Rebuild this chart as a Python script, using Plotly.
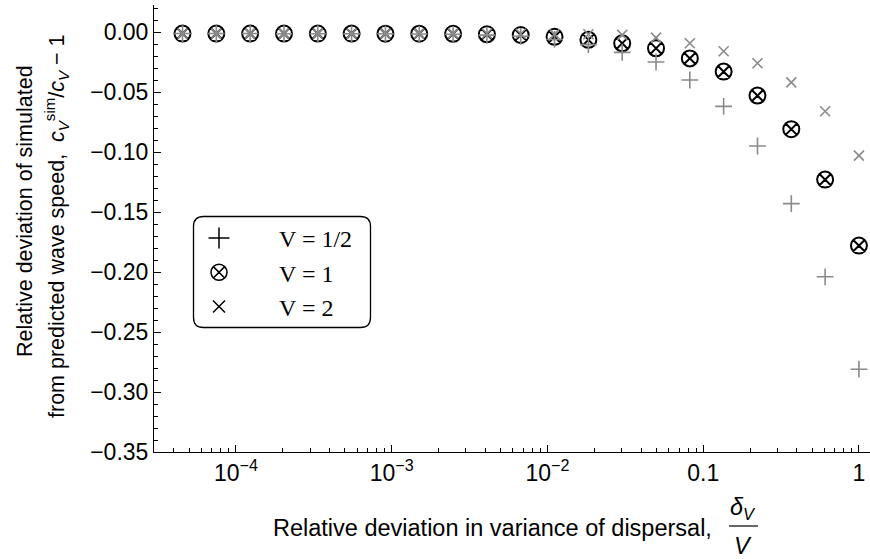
import plotly.graph_objects as go

# Relative deviation in the variance of dispersal, delta_V / V
delta_ratio = [4.540e-5, 7.485e-5, 1.234e-4, 2.035e-4, 3.355e-4, 5.531e-4,
               9.119e-4, 1.503e-3, 2.479e-3, 4.087e-3, 6.738e-3, 1.111e-2,
               1.832e-2, 3.020e-2, 4.979e-2, 8.208e-2, 0.1353, 0.2231,
               0.3679, 0.6065, 1.0]

# Relative deviation of simulated from predicted wave speed, c_sim / c - 1
dev_half = [-0.0013, -0.0013, -0.0013, -0.0014, -0.0014, -0.0015, -0.0015,
            -0.0017, -0.0019, -0.0026, -0.0036, -0.0062, -0.0105, -0.0170,
            -0.0250, -0.0400, -0.0620, -0.0950, -0.1430, -0.2040, -0.2810]
dev_one = [-0.0013, -0.0013, -0.0013, -0.0013, -0.0013, -0.0013, -0.0014,
           -0.0014, -0.0015, -0.0019, -0.0025, -0.0040, -0.0065, -0.0094,
           -0.0136, -0.0220, -0.0330, -0.0530, -0.0810, -0.1230, -0.1780]
dev_two = [-0.0013, -0.0013, -0.0013, -0.0013, -0.0013, -0.0013, -0.0013,
           -0.0013, -0.0013, -0.0014, -0.0015, -0.0017, -0.0019, -0.0024,
           -0.0047, -0.0094, -0.0160, -0.0260, -0.0420, -0.0660, -0.1030]

series_names = ["V = 1/2", "V = 1", "V = 2"]

x_tickvals = [1e-4, 1e-3, 1e-2, 0.1, 1]
x_ticktext = ["10<sup>\u22124</sup>", "10<sup>\u22123</sup>", "10<sup>\u22122</sup>", "0.1", "1"]
y_tickvals = [0.0, -0.05, -0.10, -0.15, -0.20, -0.25, -0.30, -0.35]
y_ticktext = ["0.00", "\u22120.05", "\u22120.10", "\u22120.15", "\u22120.20",
              "\u22120.25", "\u22120.30", "\u22120.35"]

W, H = 870, 559
ML, MR, MT, MB = 154, 0, 5, 107
PW, PH = W - ML - MR, H - MT - MB

def px_x(px):
    return (px - ML) / PW

def px_y(py):
    return (H - MB - py) / PH

GRAY = "#8a8a8a"
SANS = "Liberation Sans, Arial, sans-serif"
SERIF = "Liberation Serif, Times New Roman, serif"
TICK_SIZE = 23
XTITLE_SIZE = 23.5
YTITLE_SIZE = 21.5

fig = go.Figure()

fig.add_trace(go.Scatter(
    x=delta_ratio, y=dev_one, mode="markers", showlegend=False,
    marker=dict(symbol="circle-x-open", size=16, color="black",
                line=dict(width=2, color="black"))))
fig.add_trace(go.Scatter(
    x=delta_ratio, y=dev_half, mode="markers", showlegend=False,
    marker=dict(symbol="cross-thin", size=12, color=GRAY,
                line=dict(width=1.6, color=GRAY))))
fig.add_trace(go.Scatter(
    x=delta_ratio, y=dev_two, mode="markers", showlegend=False,
    marker=dict(symbol="x-thin", size=10, color=GRAY,
                line=dict(width=1.6, color=GRAY))))

# legend keys (black glyphs)
legend_symbols = [("cross-thin", 15), ("circle-x-open", 17), ("x-thin", 12)]
for name, (sym, sz) in zip(series_names, legend_symbols):
    fig.add_trace(go.Scatter(
        x=[None], y=[None], mode="markers", name=name,
        marker=dict(symbol=sym, size=sz, color="black",
                    line=dict(width=1.5, color="black"))))

# minor ticks on the log axis
x_minor = [m * 10.0 ** d for d in range(-5, 0) for m in range(2, 10)]

fig.update_layout(
    width=W, height=H,
    margin=dict(l=ML, r=MR, t=MT, b=MB, pad=0),
    paper_bgcolor="white", plot_bgcolor="white",
    font=dict(family=SANS, size=TICK_SIZE, color="black"),
    xaxis=dict(
        type="log", range=[-4.526, 0.071],
        showgrid=False, zeroline=False,
        showline=True, linecolor="black", linewidth=1,
        ticks="inside", ticklen=7, tickwidth=1, tickcolor="black",
        tickmode="array", tickvals=x_tickvals, ticktext=x_ticktext,
        tickfont=dict(family=SANS, size=TICK_SIZE),
        minor=dict(ticks="inside", ticklen=4, tickwidth=1, tickcolor="black",
                   tickmode="array", tickvals=x_minor, showgrid=False),
    ),
    yaxis=dict(
        range=[-0.35, -0.35 + PH / 1200.0],
        showgrid=False, zeroline=False,
        showline=True, linecolor="black", linewidth=1,
        ticks="inside", ticklen=7, tickwidth=1, tickcolor="black",
        tickmode="array", tickvals=y_tickvals, ticktext=y_ticktext,
        tickfont=dict(family=SANS, size=TICK_SIZE),
        minor=dict(ticks="inside", ticklen=4, tickwidth=1, tickcolor="black",
                   dtick=0.01, showgrid=False),
    ),
    legend=dict(
        x=px_x(159), y=px_y(216), xanchor="left", yanchor="top",
        bgcolor="rgba(0,0,0,0)", borderwidth=0,
        font=dict(family=SERIF, size=24, color="black"),
        itemwidth=110, tracegroupgap=0,
    ),
)

# rounded frame around the legend, given in pixels and mapped to paper units
x0, x1, y0, y1, r = 193.5, 370.5, 216.5, 327.5, 10
pts = [("M", x0 + r, y0), ("L", x1 - r, y0), ("Q", x1, y0), ("", x1, y0 + r),
       ("L", x1, y1 - r), ("Q", x1, y1), ("", x1 - r, y1), ("L", x0 + r, y1),
       ("Q", x0, y1), ("", x0, y1 - r), ("L", x0, y0 + r), ("Q", x0, y0),
       ("", x0 + r, y0)]
path = " ".join(f"{c} {px_x(a):.5f},{px_y(b):.5f}".strip() for c, a, b in pts) + " Z"
fig.add_shape(type="path", path=path, xref="paper", yref="paper",
              line=dict(color="black", width=1.3), fillcolor="rgba(0,0,0,0)",
              layer="above")

# x-axis title with stacked fraction delta_V / V
fig.add_annotation(text="Relative deviation in variance of dispersal,",
                   xref="paper", yref="paper", x=px_x(714), y=px_y(528),
                   xanchor="right", yanchor="middle", showarrow=False,
                   font=dict(family=SANS, size=XTITLE_SIZE))
fig.add_annotation(text="<i>\u03b4<sub>V</sub></i>",
                   xref="paper", yref="paper", x=px_x(743), y=px_y(509),
                   xanchor="center", yanchor="middle", showarrow=False,
                   font=dict(family=SANS, size=XTITLE_SIZE))
fig.add_annotation(text="<i>V</i>",
                   xref="paper", yref="paper", x=px_x(743), y=px_y(546),
                   xanchor="center", yanchor="middle", showarrow=False,
                   font=dict(family=SANS, size=XTITLE_SIZE))
fig.add_shape(type="line", xref="paper", yref="paper",
              x0=px_x(729), x1=px_x(758), y0=px_y(526), y1=px_y(526),
              line=dict(color="black", width=1.2))

# y-axis title, two rotated lines
fig.add_annotation(text="Relative deviation of simulated",
                   xref="paper", yref="paper", x=px_x(25), y=px_y(211),
                   xanchor="center", yanchor="middle", textangle=-90,
                   showarrow=False, font=dict(family=SANS, size=YTITLE_SIZE))
fig.add_annotation(text="from predicted wave speed,  <i>c</i><sub><i>V</i></sub><sup>sim</sup>/<i>c</i><sub><i>V</i></sub> \u2212 1",
                   xref="paper", yref="paper", x=px_x(56), y=px_y(226),
                   xanchor="center", yanchor="middle", textangle=-90,
                   showarrow=False, font=dict(family=SANS, size=YTITLE_SIZE))

fig.write_html("out.html")
